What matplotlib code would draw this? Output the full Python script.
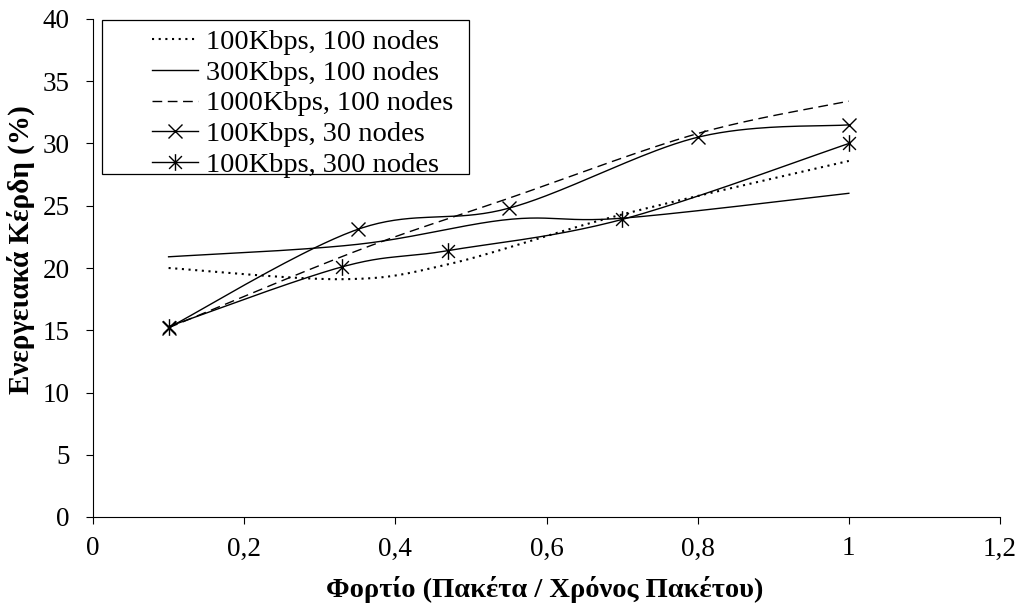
import numpy as np
import matplotlib
matplotlib.use("Agg")
import matplotlib.pyplot as plt
from matplotlib.path import Path
from matplotlib.patches import Rectangle

# ==== values ====
X_DOT = [0.1, 0.33, 0.47, 0.7, 1.0]
Y_100K_100N = [20.0, 19.1, 20.3, 24.3, 28.6]

X_SOLID = [0.1, 0.35, 0.55, 0.7, 1.0]
Y_300K_100N = [20.9, 21.9, 23.9, 24.0, 26.0]

X_DASH = [0.1, 0.35, 0.55, 0.8, 1.0]
Y_1000K_100N = [15.2, 21.4, 25.6, 30.8, 33.4]

X_30N = [0.1, 0.35, 0.55, 0.8, 1.0]
Y_100K_30N = [15.2, 23.1, 24.8, 30.5, 31.5]

X_300N = [0.1, 0.33, 0.47, 0.7, 1.0]
Y_100K_300N = [15.3, 20.1, 21.4, 23.9, 30.0]

LABELS = ["100Kbps, 100 nodes", "300Kbps, 100 nodes", "1000Kbps, 100 nodes",
          "100Kbps, 30 nodes", "100Kbps, 300 nodes"]
XTICKS = [0, 0.2, 0.4, 0.6, 0.8, 1.0, 1.2]
YTICKS = [0, 5, 10, 15, 20, 25, 30, 35, 40]
XLABEL = "Φορτίο (Πακέτα / Χρόνος Πακέτου)"
YLABEL = "Ενεργειακά Κέρδη (%)"
# ===================================

FONT = "Liberation Serif"
plt.rcParams["font.family"] = [FONT, "DejaVu Serif"]


def smooth(xs, ys, n=40):
    # excel-like smoothed line (catmull-rom as cubic bezier)
    p = np.column_stack([xs, ys]).astype(float)
    pts = np.vstack([p[0], p, p[-1]])
    out = []
    t = np.linspace(0, 1, n)[:, None]
    for i in range(1, len(pts) - 2):
        p0, p1, p2, p3 = pts[i - 1], pts[i], pts[i + 1], pts[i + 2]
        c1 = p1 + (p2 - p0) / 6.0
        c2 = p2 - (p3 - p1) / 6.0
        seg = (1 - t) ** 3 * p1 + 3 * (1 - t) ** 2 * t * c1 + 3 * (1 - t) * t ** 2 * c2 + t ** 3 * p2
        out.append(seg if i == 1 else seg[1:])
    s = np.vstack(out)
    return s[:, 0], s[:, 1]


# asterisk marker: x plus a vertical bar
star = Path([(-1, -1), (1, 1), (-1, 1), (1, -1), (0, -1.3), (0, 1.3)],
            [Path.MOVETO, Path.LINETO, Path.MOVETO, Path.LINETO, Path.MOVETO, Path.LINETO])

W, H = 1018, 616
fig = plt.figure(figsize=(W / 100, H / 100), dpi=100)
ax = fig.add_axes([93 / W, 1 - 517 / H, (1000 - 93) / W, (517 - 19) / H])

series = [
    (X_DOT, Y_100K_100N, dict(linestyle=(0, (1.0, 2.2)), lw=1.5), None, 0),
    (X_SOLID, Y_300K_100N, dict(linestyle="-", lw=1.0), None, 0),
    (X_DASH, Y_1000K_100N, dict(linestyle=(0, (7, 4)), lw=1.0), None, 0),
    (X_30N, Y_100K_30N, dict(linestyle="-", lw=1.0), "x", 9.5),
    (X_300N, Y_100K_300N, dict(linestyle="-", lw=1.0), star, 12),
]

handles = []
for (xs, ys, style, mk, ms), lab in zip(series, LABELS):
    sx, sy = smooth(xs, ys)
    ax.plot(sx, sy, color="black", **style)
    if mk is not None:
        ax.plot(xs, ys, linestyle="none", marker=mk, ms=ms, mew=1.0,
                color="black", mec="black")
    h, = ax.plot([], [], color="black", marker=mk, ms=ms, mew=1.0, **style)
    handles.append(h)

ax.set_xlim(0, 1.2)
ax.set_ylim(0, 40)
ax.set_xticks(XTICKS)
ax.set_xticklabels([f"{v:g}".replace(".", ",") for v in XTICKS])
ax.set_yticks(YTICKS)
ax.set_yticklabels([str(v) for v in YTICKS])
ax.tick_params(axis="both", direction="out", length=5, width=0.8,
               labelsize=19.5, colors="black")
ax.tick_params(axis="x", pad=9)
ax.tick_params(axis="y", pad=12)
for side in ("top", "right"):
    ax.spines[side].set_visible(False)
for side in ("left", "bottom"):
    ax.spines[side].set_linewidth(0.8)

ax.set_xlabel(XLABEL, fontsize=20.5, fontweight="bold")
ax.set_ylabel(YLABEL, fontsize=21, fontweight="bold")
ax.xaxis.set_label_coords(0.498, -0.118)
ax.yaxis.set_label_coords(-0.064, 0.536)

# legend frame drawn by hand, excel-style
box = Rectangle((102 / W, 1 - 174 / H), (469 - 102) / W, (174 - 20) / H,
                transform=fig.transFigure, facecolor="white", edgecolor="black",
                lw=0.9, zorder=4, clip_on=False)
ax.add_patch(box)
leg = ax.legend(handles, LABELS, loc="upper left", frameon=False,
                bbox_to_anchor=(152 / W, 1 - 29 / H), bbox_transform=fig.transFigure,
                borderpad=0, borderaxespad=0, handlelength=1.6, handletextpad=0.3,
                labelspacing=0.17, fontsize=20.5, numpoints=1)
leg.set_zorder(5)

fig.savefig("out.png", dpi=100)
